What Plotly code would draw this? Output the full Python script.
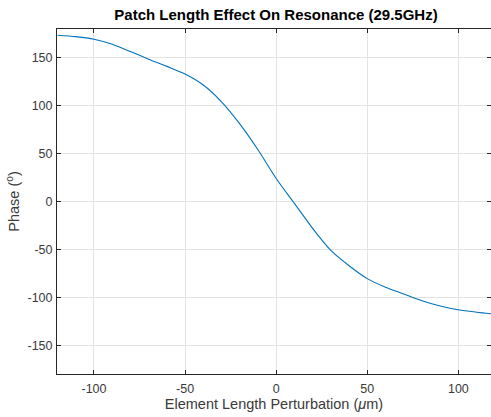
import plotly.graph_objects as go

perturbation_um = [-120, -110, -100, -90, -80, -70, -60, -50, -40, -30, -20, -10,
                   0, 10, 20, 30, 40, 50, 60, 70, 80, 90, 100, 110, 120]
phase_deg = [173.5, 172, 169.3, 164, 156.5, 148.5, 141, 133, 121.5, 104, 81, 54,
             24, -2, -28, -51, -67, -80.5, -89.5, -96.5, -103.5, -109, -113, -115.5, -117.5]

x_ticks = [-100, -50, 0, 50, 100]
y_ticks = [-150, -100, -50, 0, 50, 100, 150]

axis_col = "#262626"
text_col = "#3a3a3a"
grid_col = "#e3e3e3"
font_fam = "Liberation Sans, Arial, sans-serif"

fig = go.Figure()
fig.add_trace(go.Scatter(x=perturbation_um, y=phase_deg, mode="lines",
                         line=dict(color="#0072BD", width=1.1, shape="spline", smoothing=0.8),
                         showlegend=False, hoverinfo="skip"))

fig.update_layout(
    width=491, height=417,
    margin=dict(l=57, r=0, t=29, b=43),
    paper_bgcolor="white", plot_bgcolor="white",
    font=dict(family=font_fam, color=text_col, size=12),
    title=dict(text="<b>Patch Length Effect On Resonance (29.5GHz)</b>",
               x=276 / 491, xanchor="center",
               y=1 - 15 / 417, yanchor="middle",
               font=dict(size=15, color="black", family=font_fam)),
)
fig.update_xaxes(range=[-120.3, 117.9], tickvals=x_ticks, ticktext=[str(v) for v in x_ticks],
                 showgrid=True, gridcolor=grid_col, gridwidth=1,
                 showline=True, linecolor=axis_col, linewidth=1, mirror="ticks",
                 ticks="inside", ticklen=4, tickcolor=axis_col, zeroline=False,
                 tickfont=dict(size=12.5, color=text_col), ticklabelstandoff=3,
                 title=dict(text="Element Length Perturbation (<i>μ</i>m)", standoff=0,
                            font=dict(size=14.5, color=text_col)))
fig.update_yaxes(range=[-180, 180], tickvals=y_ticks, ticktext=[str(v) for v in y_ticks],
                 showgrid=True, gridcolor=grid_col, gridwidth=1,
                 showline=True, linecolor=axis_col, linewidth=1, mirror="ticks",
                 ticks="inside", ticklen=4, tickcolor=axis_col, zeroline=False,
                 tickfont=dict(size=12.5, color=text_col), ticklabelstandoff=1,
                 title=dict(text="Phase (<sup>o</sup>)", standoff=4,
                            font=dict(size=14.5, color=text_col)))

fig.write_html("out.html")
